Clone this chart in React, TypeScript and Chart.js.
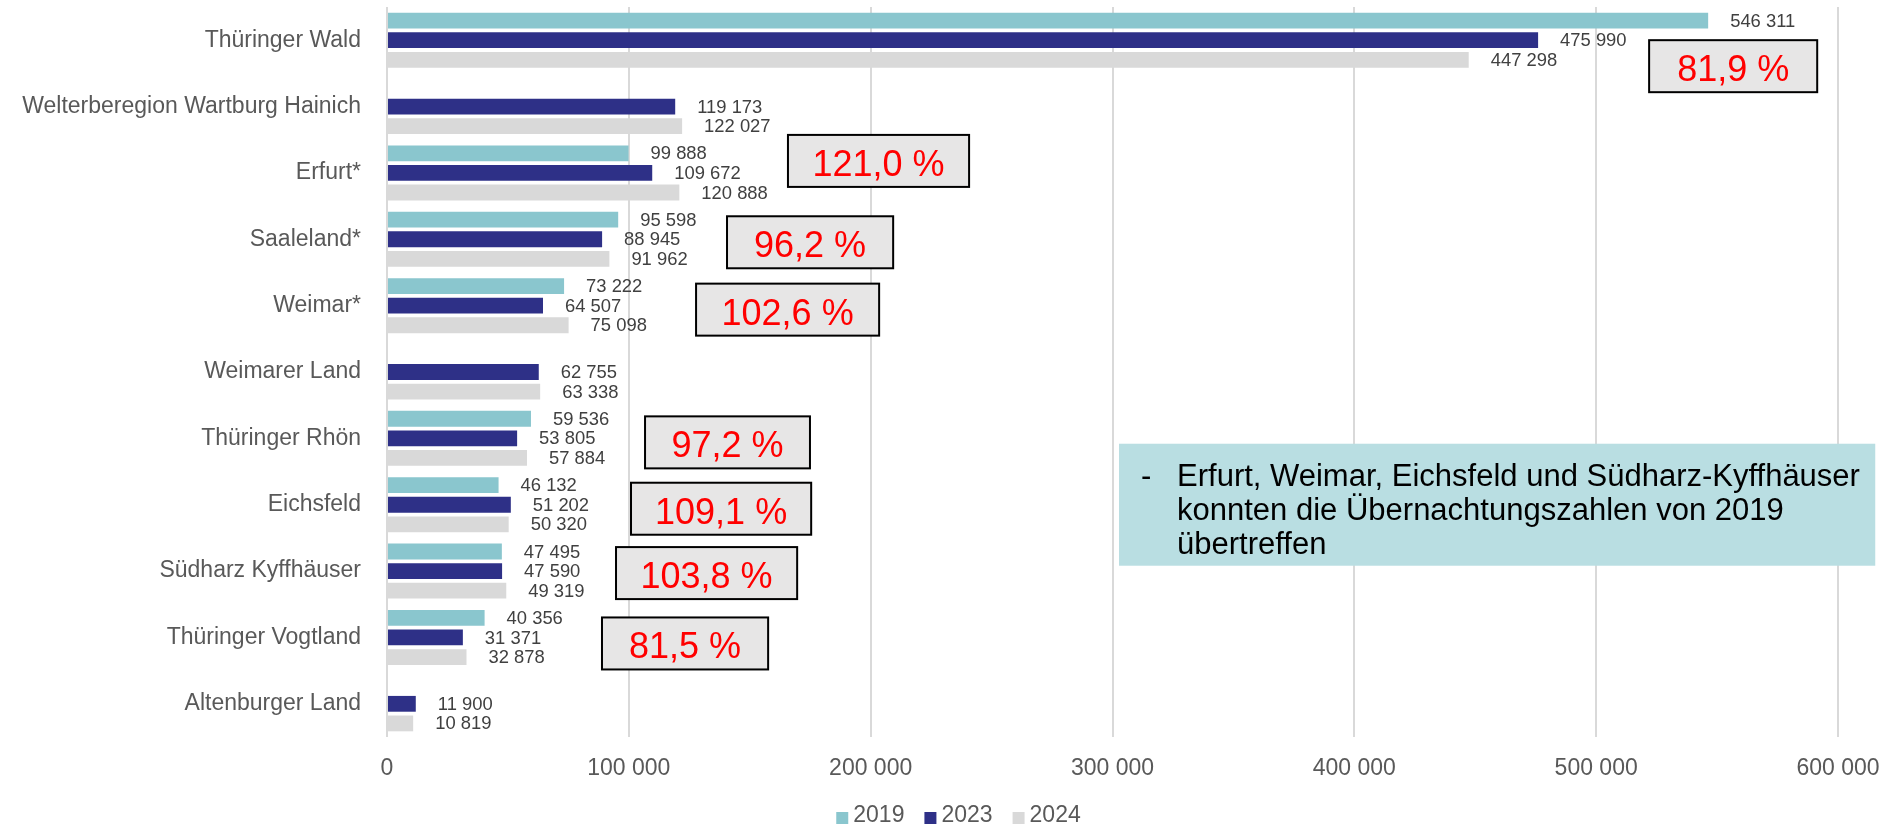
import React, { useEffect, useRef } from "react";
import { Chart, registerables } from "chart.js";

Chart.register(...registerables);

const categories = [
  "Thüringer Wald",
  "Welterberegion Wartburg Hainich",
  "Erfurt*",
  "Saaleland*",
  "Weimar*",
  "Weimarer Land",
  "Thüringer Rhön",
  "Eichsfeld",
  "Südharz Kyffhäuser",
  "Thüringer Vogtland",
  "Altenburger Land",
];
const seriesNames = ["2019", "2023", "2024"];
const values2019 = [546311, null, 99888, 95598, 73222, null, 59536, 46132, 47495, 40356, null];
const values2023 = [475990, 119173, 109672, 88945, 64507, 62755, 53805, 51202, 47590, 31371, 11900];
const values2024 = [447298, 122027, 120888, 91962, 75098, 63338, 57884, 50320, 49319, 32878, 10819];
const xTickValues = [0, 100000, 200000, 300000, 400000, 500000, 600000];

const ratioCategories = [
  "Thüringer Wald",
  "Erfurt*",
  "Saaleland*",
  "Weimar*",
  "Thüringer Rhön",
  "Eichsfeld",
  "Südharz Kyffhäuser",
  "Thüringer Vogtland",
];
const ratioLabels = ["81,9 %", "121,0 %", "96,2 %", "102,6 %", "97,2 %", "109,1 %", "103,8 %", "81,5 %"];

const noteLines = [
  "Erfurt, Weimar, Eichsfeld und Südharz-Kyffhäuser",
  "konnten die Übernachtungszahlen von 2019",
  "übertreffen",
];

// placement of the ratio boxes: x range in axis units, vertical shift in px from category centre
const ratioBoxPlacement = [
  { x0: 521900, x1: 591400, dy: 26 },
  { x0: 165800, x1: 240700, dy: -12 },
  { x0: 140600, x1: 209300, dy: 3 },
  { x0: 127800, x1: 203500, dy: 4 },
  { x0: 106700, x1: 174900, dy: 4 },
  { x0: 100900, x1: 175400, dy: 4 },
  { x0: 94700, x1: 169600, dy: 2 },
  { x0: 88900, x1: 157600, dy: 6 },
];
const notePlacement = { x0: 302700, x1: 615400, category: "Eichsfeld", dy: 0, h: 122 };

const FONT = '"Liberation Sans", Arial, Helvetica, sans-serif';
const COLORS = ["#8AC6CE", "#2E3087", "#D9D9D9"];
const PLOT_BOTTOM = 737;
const LEGEND = { textY: 816, font: 23, box: 12, gap: 5, itemGap: 20, centerShift: 15 };

const fmt = (v: number) => String(v).replace(/\B(?=(\d{3})+(?!\d))/g, " ");

const valueLabelPlugin = {
  id: "valueLabels",
  afterDatasetsDraw(chart: any) {
    const ctx = chart.ctx;
    ctx.save();
    ctx.font = `18.4px ${FONT}`;
    ctx.fillStyle = "#404040";
    ctx.textAlign = "left";
    ctx.textBaseline = "middle";
    chart.data.datasets.forEach((ds: any, di: number) => {
      const meta = chart.getDatasetMeta(di);
      meta.data.forEach((el: any, i: number) => {
        const v = ds.data[i];
        if (v == null) return;
        ctx.fillText(fmt(v), el.x + 22, el.y + 1);
      });
    });
    ctx.restore();
  },
};

const bottomLegendPlugin = {
  id: "bottomLegend",
  afterDraw(chart: any) {
    const ctx = chart.ctx;
    ctx.save();
    ctx.font = `${LEGEND.font}px ${FONT}`;
    ctx.textBaseline = "middle";
    ctx.textAlign = "left";
    const items = chart.data.datasets.map((ds: any) => ({
      text: String(ds.label),
      color: ds.backgroundColor,
      w: ctx.measureText(String(ds.label)).width,
    }));
    const total =
      items.reduce((s: number, it: any) => s + LEGEND.box + LEGEND.gap + it.w, 0) +
      LEGEND.itemGap * (items.length - 1);
    let x = chart.width / 2 + LEGEND.centerShift - total / 2;
    items.forEach((it: any) => {
      ctx.fillStyle = it.color;
      ctx.fillRect(x, LEGEND.textY + 2 - LEGEND.box / 2, LEGEND.box, LEGEND.box);
      ctx.fillStyle = "#595959";
      ctx.fillText(it.text, x + LEGEND.box + LEGEND.gap, LEGEND.textY);
      x += LEGEND.box + LEGEND.gap + it.w + LEGEND.itemGap;
    });
    ctx.restore();
  },
};

const annotationPlugin = {
  id: "annotations",
  afterDraw(chart: any) {
    const ctx = chart.ctx;
    const xs = chart.scales.x;
    const ys = chart.scales.y;
    ctx.save();
    ratioLabels.forEach((label, i) => {
      const p = ratioBoxPlacement[i];
      const idx = categories.indexOf(ratioCategories[i]);
      const cy = ys.getPixelForValue(idx) + p.dy;
      const x0 = xs.getPixelForValue(p.x0);
      const x1 = xs.getPixelForValue(p.x1);
      const h = 52;
      ctx.fillStyle = "#E7E6E6";
      ctx.fillRect(x0, cy - h / 2, x1 - x0, h);
      ctx.strokeStyle = "#000000";
      ctx.lineWidth = 2;
      ctx.strokeRect(x0, cy - h / 2, x1 - x0, h);
      ctx.fillStyle = "#FF0000";
      ctx.font = `36px ${FONT}`;
      ctx.textAlign = "center";
      ctx.textBaseline = "middle";
      ctx.fillText(label, (x0 + x1) / 2, cy + 5);
    });

    // note box
    const nIdx = categories.indexOf(notePlacement.category);
    const ncy = ys.getPixelForValue(nIdx) + notePlacement.dy;
    const nx0 = xs.getPixelForValue(notePlacement.x0);
    const nx1 = xs.getPixelForValue(notePlacement.x1);
    const nh = notePlacement.h;
    ctx.fillStyle = "#B9DEE2";
    ctx.fillRect(nx0, ncy - nh / 2, nx1 - nx0, nh);
    ctx.fillStyle = "#000000";
    ctx.font = `31px ${FONT}`;
    ctx.textAlign = "left";
    ctx.textBaseline = "middle";
    const lh = 33.7;
    const firstY = ncy - 27;
    ctx.fillText("-", nx0 + 22, firstY);
    noteLines.forEach((line, i) => {
      ctx.fillText(line, nx0 + 58, firstY + i * lh);
    });
    ctx.restore();
  },
};

export default function App() {
  const ref = useRef<HTMLCanvasElement | null>(null);
  useEffect(() => {
    if (!ref.current) return;
    const valueSets = [values2019, values2023, values2024];
    const chart = new Chart(ref.current, {
      type: "bar",
      data: {
        labels: categories,
        datasets: seriesNames.map((name, i) => ({
          label: name,
          data: valueSets[i],
          backgroundColor: COLORS[i],
          borderWidth: 0,
          categoryPercentage: 0.886,
          barPercentage: 0.806,
        })),
      },
      options: {
        indexAxis: "y",
        responsive: true,
        maintainAspectRatio: false,
        animation: false,
        layout: { padding: { top: 7, right: 49, bottom: 0, left: 0 } },
        plugins: {
          legend: { display: false },
          tooltip: { enabled: false },
        },
        scales: {
          x: {
            min: 0,
            max: 600000,
            afterBuildTicks: (scale: any) => {
              scale.ticks = xTickValues.map((v) => ({ value: v }));
            },
            ticks: {
              font: { family: FONT, size: 23 },
              color: "#595959",
              padding: 18,
              callback: (v: any) => fmt(Number(v)),
            },
            grid: { color: "#D9D9D9", lineWidth: 2, drawTicks: false },
            border: { display: false },
            afterFit: (scale: any) => {
              scale.height = Math.max(scale.chart.height - PLOT_BOTTOM, 0);
              scale.paddingLeft = 0;
              scale.paddingRight = 0;
            },
          },
          y: {
            ticks: {
              font: { family: FONT, size: 23 },
              color: "#595959",
              padding: 26,
            },
            grid: { display: false, drawTicks: false },
            border: { display: false },
            afterFit: (scale: any) => {
              scale.width = 387;
              scale.paddingTop = 0;
              scale.paddingBottom = 0;
            },
          },
        },
      },
      plugins: [valueLabelPlugin, annotationPlugin, bottomLegendPlugin],
    });
    return () => chart.destroy();
  }, []);
  return (
    <div style={{ position: "fixed", left: 0, top: 0, width: "1887px", height: "825px", background: "#fff" }}>
      <canvas ref={ref} />
    </div>
  );
}
